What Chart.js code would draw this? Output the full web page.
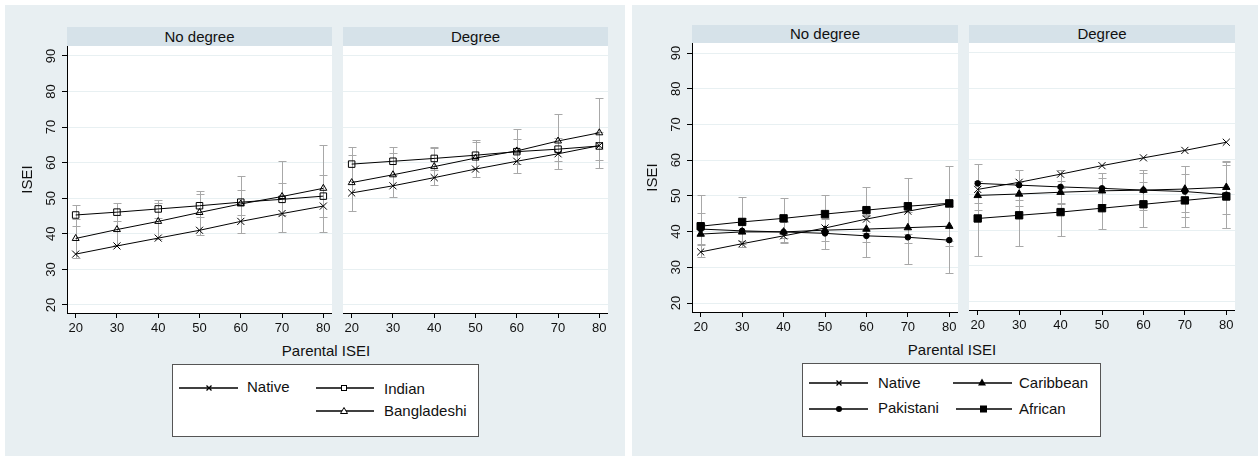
<!DOCTYPE html>
<html lang="en">
<head>
<meta charset="UTF-8">
<title>ISEI by parental ISEI</title>
<script src="https://cdn.jsdelivr.net/npm/chart.js"></script>
<style>
  body { margin: 0; width: 1258px; height: 460px; background: #fff; position: relative; overflow: hidden;
         font-family: "Liberation Sans", Arial, sans-serif; color: #111; }
  .panel { position: absolute; top: 5px; height: 451px; background: #e8eff2; }
  .strip { position: absolute; background: #d6e2e9; text-align: center; font-size: 15px; }
  .facet { position: absolute; }
  .xtitle { position: absolute; font-size: 15px; line-height: 18px; transform: translateX(-50%); white-space: nowrap; }
  .legend { position: absolute; background: #fff; border: 1px solid #555; box-sizing: border-box; }
  .key { position: absolute; }
  .lbl { position: absolute; font-size: 15px; line-height: 18px; white-space: nowrap; }
</style>
</head>
<body>
  <div class="panel" style="left:5px;width:620px"></div>
  <div class="panel" style="left:632px;width:626px"></div>

  <div class="strip" style="left:67px;top:27px;width:265px;height:19px;line-height:19px">No degree</div>
  <div class="strip" style="left:343px;top:27px;width:265px;height:19px;line-height:19px">Degree</div>
  <div class="strip" style="left:692px;top:25px;width:266px;height:18px;line-height:18px">No degree</div>
  <div class="strip" style="left:969px;top:25px;width:266px;height:18px;line-height:18px">Degree</div>

  <canvas id="f1" class="facet" style="left:10px;top:46px" width="322" height="294"></canvas>
  <canvas id="f2" class="facet" style="left:343px;top:46px" width="265" height="294"></canvas>
  <canvas id="f3" class="facet" style="left:635px;top:43px" width="323" height="297"></canvas>
  <canvas id="f4" class="facet" style="left:969px;top:43px" width="266" height="297"></canvas>

  <div class="xtitle" style="left:326px;top:342px">Parental ISEI</div>
  <div class="xtitle" style="left:952px;top:341px">Parental ISEI</div>

  <!-- legend, left panel -->
  <div class="legend" style="left:172px;top:364px;width:307px;height:73px"></div>
  <svg class="key" style="left:179px;top:382px" width="60" height="12">
    <line x1="0" y1="6" x2="59" y2="6" stroke="#000" stroke-width="1.3"/>
    <path d="M27.5 3.5 L32.5 8.5 M32.5 3.5 L27.5 8.5" stroke="#000" stroke-width="1.3"/>
  </svg>
  <div class="lbl" style="left:247px;top:378px">Native</div>
  <svg class="key" style="left:316px;top:382px" width="60" height="12">
    <line x1="0" y1="6" x2="58" y2="6" stroke="#000" stroke-width="1.3"/>
    <rect x="25.5" y="3.5" width="5" height="5" fill="#fff" stroke="#000" stroke-width="1"/>
  </svg>
  <div class="lbl" style="left:384px;top:380px">Indian</div>
  <svg class="key" style="left:316px;top:405px" width="60" height="12">
    <line x1="0" y1="6" x2="58" y2="6" stroke="#000" stroke-width="1.3"/>
    <path d="M28 2.5 L31.5 8.5 L24.5 8.5 Z" fill="#fff" stroke="#000" stroke-width="1"/>
  </svg>
  <div class="lbl" style="left:384px;top:402px">Bangladeshi</div>

  <!-- legend, right panel -->
  <div class="legend" style="left:802px;top:363px;width:299px;height:74px"></div>
  <svg class="key" style="left:809px;top:377px" width="60" height="12">
    <line x1="0" y1="6" x2="59" y2="6" stroke="#000" stroke-width="1.3"/>
    <path d="M27.5 3.5 L32.5 8.5 M32.5 3.5 L27.5 8.5" stroke="#000" stroke-width="1.3"/>
  </svg>
  <div class="lbl" style="left:878px;top:374px">Native</div>
  <svg class="key" style="left:953px;top:377px" width="60" height="12">
    <line x1="0" y1="6" x2="59" y2="6" stroke="#000" stroke-width="1.3"/>
    <path d="M29 1.5 L33 8.5 L25 8.5 Z" fill="#000"/>
  </svg>
  <div class="lbl" style="left:1019px;top:374px">Caribbean</div>
  <svg class="key" style="left:809px;top:403px" width="60" height="12">
    <line x1="0" y1="6" x2="59" y2="6" stroke="#000" stroke-width="1.3"/>
    <circle cx="30" cy="6" r="3" fill="#000"/>
  </svg>
  <div class="lbl" style="left:878px;top:399px">Pakistani</div>
  <svg class="key" style="left:956px;top:403px" width="60" height="12">
    <line x1="0" y1="6" x2="56" y2="6" stroke="#000" stroke-width="1.3"/>
    <rect x="24" y="2.5" width="7" height="7" fill="#000"/>
  </svg>
  <div class="lbl" style="left:1019px;top:400px">African</div>

<script>
// x values and ticks
const parentalIsei = [20, 30, 40, 50, 60, 70, 80];
const xTickValues = [20, 30, 40, 50, 60, 70, 80];
const yTickValues = [20, 30, 40, 50, 60, 70, 80, 90];

// native (same in both figures)
const nativeNoDeg = [34.3, 36.6, 38.8, 41.0, 43.5, 45.7, 47.8];
const nativeDeg   = [51.5, 53.5, 55.8, 58.2, 60.4, 62.5, 64.8];

// left figure
const indianNoDeg   = [45.3, 46.1, 47.0, 47.9, 48.9, 49.7, 50.6];
const indianNoDegLo = [42.1, 43.6, 44.5, 44.6, 45.3, 45.4, 44.7];
const indianNoDegHi = [48.1, 48.6, 49.5, 51.2, 52.4, 54.2, 56.4];
const bangNoDeg     = [38.7, 41.2, 43.5, 46.0, 48.4, 50.5, 52.8];
const bangNoDegLo   = [33.2, 37.0, 38.5, 39.7, 40.3, 40.5, 40.6];
const bangNoDegHi   = [44.2, 45.4, 48.6, 52.1, 56.3, 60.6, 65.1];

const indianDeg   = [59.6, 60.4, 61.2, 62.1, 63.1, 63.8, 64.7];
const indianDegLo = [54.9, 56.5, 58.0, 58.5, 59.6, 60.6, 60.7];
const indianDegHi = [64.3, 64.3, 64.4, 65.7, 66.6, 67.0, 68.7];
const bangDeg     = [54.4, 56.6, 58.9, 61.3, 63.3, 66.1, 68.4];
const bangDegLo   = [46.5, 50.4, 53.6, 56.1, 57.0, 58.3, 58.6];
const bangDegHi   = [62.3, 62.8, 64.2, 66.3, 69.6, 73.8, 78.2];

// right figure
const pakNoDeg       = [40.7, 40.2, 39.9, 39.5, 38.8, 38.4, 37.6];
const pakNoDegLo     = [36.2, 36.6, 36.7, 35.1, 33.0, 30.8, 28.3];
const pakNoDegHi     = [45.2, 43.8, 43.1, 43.9, 44.6, 46.0, 46.9];
const caribNoDeg     = [39.3, 39.9, 39.9, 40.4, 40.7, 41.1, 41.5];
const caribNoDegLo   = [36.4, 37.3, 37.2, 37.4, 37.1, 36.8, 35.9];
const caribNoDegHi   = [42.2, 42.5, 42.6, 43.4, 44.3, 45.4, 47.1];
const africanNoDeg   = [41.5, 42.7, 43.7, 44.9, 46.0, 47.1, 47.9];
const africanNoDegLo = [32.8, 35.8, 38.1, 39.6, 39.6, 39.3, 37.5];
const africanNoDegHi = [50.2, 49.6, 49.3, 50.2, 52.4, 54.9, 58.3];

const pakDeg       = [53.2, 52.7, 52.2, 51.8, 51.3, 50.9, 50.0];
const pakDegLo     = [47.6, 48.4, 47.5, 47.5, 45.6, 43.7, 40.7];
const pakDegHi     = [58.8, 57.0, 56.9, 56.1, 57.0, 58.1, 59.3];
const caribDeg     = [49.8, 50.2, 50.7, 51.1, 51.3, 51.6, 52.1];
const caribDegLo   = [45.6, 46.8, 47.6, 47.5, 46.6, 45.0, 44.6];
const caribDegHi   = [54.0, 53.6, 53.8, 54.7, 56.0, 58.2, 59.6];
const africanDeg   = [43.3, 44.2, 45.1, 46.2, 47.3, 48.4, 49.5];
const africanDegLo = [32.7, 35.6, 38.4, 40.3, 40.9, 40.9, 40.6];
const africanDegHi = [53.9, 52.8, 51.8, 52.1, 53.7, 55.9, 58.4];

Chart.defaults.font.family = '"Liberation Sans", Arial, sans-serif';
Chart.defaults.color = '#111';

// white plot region behind the data
const whitePlot = {
  id: 'whitePlot',
  beforeDraw(chart) {
    const a = chart.chartArea;
    chart.ctx.save();
    chart.ctx.fillStyle = '#fff';
    chart.ctx.fillRect(a.left, a.top, a.right - a.left, a.bottom - a.top);
    chart.ctx.restore();
  }
};

// grey confidence intervals with caps
const errorBars = {
  id: 'errorBars',
  beforeDatasetsDraw(chart) {
    const { ctx, scales: { x, y } } = chart;
    ctx.save();
    ctx.strokeStyle = '#a8a8a8';
    ctx.lineWidth = 1;
    chart.data.datasets.forEach(ds => {
      if (!ds.lo) return;
      ds.lo.forEach((lo, i) => {
        const px = Math.round(x.getPixelForValue(parentalIsei[i])) + 0.5;
        const y1 = Math.round(y.getPixelForValue(lo)) + 0.5;
        const y2 = Math.round(y.getPixelForValue(ds.hi[i])) + 0.5;
        ctx.beginPath();
        ctx.moveTo(px, y1); ctx.lineTo(px, y2);
        ctx.moveTo(px - 4, y1); ctx.lineTo(px + 4, y1);
        ctx.moveTo(px - 4, y2); ctx.lineTo(px + 4, y2);
        ctx.stroke();
      });
    });
    ctx.restore();
  }
};

function series(label, vals, lo, hi, style, radius, filled) {
  return {
    label: label,
    data: parentalIsei.map((x, i) => ({ x: x, y: vals[i] })),
    lo: lo, hi: hi,
    borderColor: '#000',
    borderWidth: 1,
    tension: 0,
    fill: false,
    clip: false,
    pointStyle: style,
    pointRadius: radius,
    pointBorderColor: '#000',
    pointBorderWidth: 1,
    pointBackgroundColor: filled ? '#000' : 'rgba(0,0,0,0)'
  };
}

function facet(id, sets, first, yMin, yMax) {
  new Chart(document.getElementById(id), {
    type: 'line',
    data: { datasets: sets },
    options: {
      responsive: false,
      animation: false,
      events: [],
      layout: { padding: 0, autoPadding: false },
      plugins: { legend: { display: false }, tooltip: { enabled: false } },
      scales: {
        x: {
          type: 'linear', min: 17.9, max: 82.1,
          afterBuildTicks: s => { s.ticks = xTickValues.map(v => ({ value: v })); },
          afterFit: s => {
            s.height = s.chart.height - (first === 'r' ? 269 : 267);
            s.paddingLeft = 0; s.paddingRight = 0;
          },
          grid: { drawOnChartArea: false, tickLength: 5, tickColor: '#000' },
          border: { color: '#000' },
          ticks: { font: { size: 13 }, padding: 3, maxRotation: 0, autoSkip: false, color: '#111' }
        },
        y: {
          min: yMin, max: yMax,
          afterBuildTicks: s => { s.ticks = yTickValues.map(v => ({ value: v })); },
          afterFit: s => {
            s.width = first ? 57 : 0;
            s.paddingTop = 0; s.paddingBottom = 0;
          },
          grid: { color: '#e8f0f2', drawTicks: !!first, tickLength: 5, tickColor: '#000' },
          border: { display: !!first, color: '#000' },
          ticks: { display: !!first, minRotation: 90, maxRotation: 90, crossAlign: 'center',
                   autoSkip: false, padding: 3, font: { size: 13 }, color: '#111' },
          title: { display: !!first, text: 'ISEI', font: { size: 15 }, color: '#111', padding: { top: 9, bottom: 0 } }
        }
      }
    },
    plugins: [whitePlot, errorBars]
  });
}

// left figure
facet('f1', [
  series('Native', nativeNoDeg, null, null, 'crossRot', 5, false),
  series('Indian', indianNoDeg, indianNoDegLo, indianNoDegHi, 'rect', 4.6, false),
  series('Bangladeshi', bangNoDeg, bangNoDegLo, bangNoDegHi, 'triangle', 4, false)
], 'l', 17.75, 92.8);
facet('f2', [
  series('Native', nativeDeg, null, null, 'crossRot', 5, false),
  series('Indian', indianDeg, indianDegLo, indianDegHi, 'rect', 4.6, false),
  series('Bangladeshi', bangDeg, bangDegLo, bangDegHi, 'triangle', 4, false)
], '', 17.75, 92.8);

// right figure
facet('f3', [
  series('Native', nativeNoDeg, null, null, 'crossRot', 5, false),
  series('Pakistani', pakNoDeg, pakNoDegLo, pakNoDegHi, 'circle', 2.8, true),
  series('Caribbean', caribNoDeg, caribNoDegLo, caribNoDegHi, 'triangle', 4.3, true),
  series('African', africanNoDeg, africanNoDegLo, africanNoDegHi, 'rect', 5.2, true)
], 'r', 17.48, 92.8);
facet('f4', [
  series('Native', nativeDeg, null, null, 'crossRot', 5, false),
  series('Pakistani', pakDeg, pakDegLo, pakDegHi, 'circle', 2.8, true),
  series('Caribbean', caribDeg, caribDegLo, caribDegHi, 'triangle', 4.3, true),
  series('African', africanDeg, africanDegLo, africanDegHi, 'rect', 5.2, true)
], '', 17.48, 92.8);
</script>
</body>
</html>
